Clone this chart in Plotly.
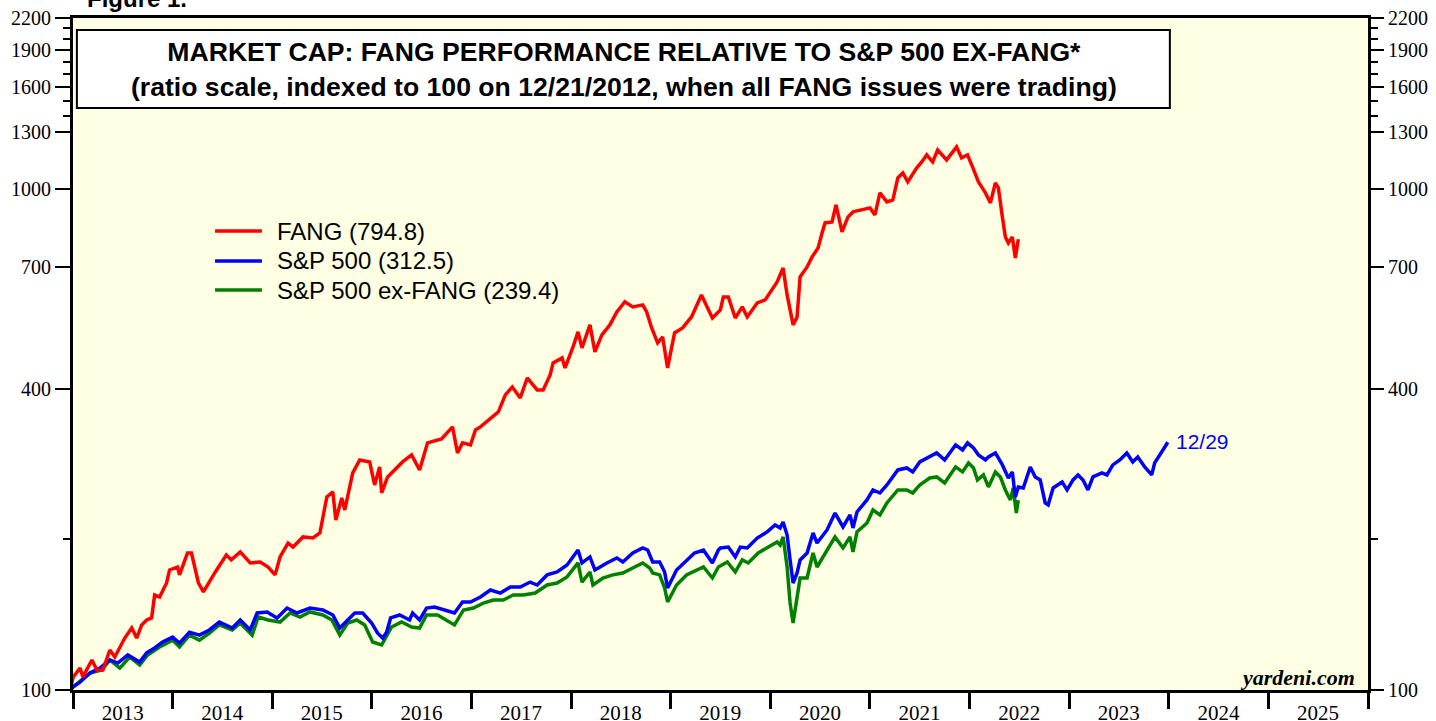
import datetime as dt
import math
import plotly.graph_objects as go

# ---------------- data (dates as decimal years, values indexed 12/21/2012 = 100) ----------------
fang_t = [2012.97, 2013.003, 2013.07, 2013.10, 2013.19, 2013.24, 2013.30, 2013.37, 2013.42, 2013.52,
          2013.59, 2013.64, 2013.69, 2013.74, 2013.79, 2013.82, 2013.87, 2013.94, 2013.97, 2014.05,
          2014.07, 2014.15, 2014.19, 2014.26, 2014.31, 2014.36, 2014.43, 2014.54, 2014.59, 2014.68,
          2014.78, 2014.88, 2014.96, 2015.03, 2015.08, 2015.16, 2015.21, 2015.31, 2015.41, 2015.48,
          2015.55, 2015.61, 2015.64, 2015.70, 2015.73, 2015.81, 2015.88, 2015.98, 2016.03, 2016.08,
          2016.10, 2016.16, 2016.26, 2016.31, 2016.40, 2016.48, 2016.56, 2016.70, 2016.81, 2016.86,
          2016.91, 2016.99, 2017.04, 2017.09, 2017.21, 2017.27, 2017.34, 2017.41, 2017.49, 2017.56,
          2017.66, 2017.72, 2017.79, 2017.82, 2017.91, 2017.94, 2018.02, 2018.07, 2018.11, 2018.19,
          2018.24, 2018.31, 2018.39, 2018.46, 2018.54, 2018.62, 2018.72, 2018.76, 2018.81, 2018.87,
          2018.92, 2018.97, 2019.04, 2019.12, 2019.21, 2019.31, 2019.42, 2019.50, 2019.53, 2019.58,
          2019.65, 2019.72, 2019.77, 2019.87, 2019.95, 2020.02, 2020.07, 2020.13, 2020.17, 2020.23,
          2020.27, 2020.30, 2020.37, 2020.42, 2020.48, 2020.52, 2020.55, 2020.62, 2020.66, 2020.72,
          2020.78, 2020.83, 2020.92, 2021.00, 2021.05, 2021.10, 2021.17, 2021.23, 2021.28, 2021.33,
          2021.38, 2021.47, 2021.52, 2021.57, 2021.63, 2021.68, 2021.77, 2021.87, 2021.92, 2021.98,
          2022.03, 2022.09, 2022.16, 2022.21, 2022.26, 2022.29, 2022.33, 2022.36, 2022.39, 2022.43,
          2022.46, 2022.49]
fang_v = [100.0, 106.2, 110.6, 106.2, 114.8, 109.6, 109.6, 120.2, 116.4, 127.0,
          133.0, 127.0, 134.9, 138.0, 139.3, 154.8, 153.4, 163.6, 173.7, 176.1,
          169.8, 187.8, 187.8, 163.6, 157.0, 163.6, 172.1, 186.1, 181.9, 188.7,
          179.4, 180.2, 176.1, 169.8, 184.4, 196.6, 193.0, 202.2, 201.2, 205.9,
          243.0, 248.7, 218.6, 241.9, 228.9, 271.4, 288.1, 285.5, 256.8, 279.0,
          247.5, 266.5, 279.0, 285.5, 294.8, 275.2, 311.6, 317.4, 335.4, 297.5,
          311.6, 308.7, 330.8, 335.4, 351.1, 359.3, 388.5, 403.1, 383.2, 420.1,
          397.6, 397.6, 426.0, 450.2, 460.6, 439.9, 484.5, 519.2, 482.3, 536.2,
          473.5, 512.1, 536.2, 569.2, 596.1, 582.5, 587.9, 569.2, 528.8, 493.5,
          507.4, 439.9, 516.8, 528.8, 556.2, 615.5, 553.6, 574.5, 609.9, 609.9,
          553.6, 582.5, 556.2, 593.3, 601.5, 629.8, 653.4, 696.9, 615.5, 536.2,
          556.2, 668.7, 700.1, 733.0, 764.1, 818.6, 857.1, 861.1, 931.2, 822.4,
          881.2, 901.7, 910.0, 918.4, 889.3, 984.1, 944.1, 952.9, 1054.3, 1078.9,
          1035.1, 1104.0, 1134.9, 1172.1, 1134.9, 1199.3, 1145.4, 1216.0, 1155.9, 1172.1,
          1109.1, 1035.1, 984.1, 939.8, 1030.3, 1006.9, 881.2, 803.7, 781.9, 803.7,
          729.7, 794.8]

spx_t = [2012.97, 2013.00, 2013.07, 2013.17, 2013.27, 2013.37, 2013.45, 2013.55, 2013.67, 2013.74,
         2013.82, 2013.90, 2014.00, 2014.07, 2014.17, 2014.27, 2014.37, 2014.47, 2014.60, 2014.68,
         2014.78, 2014.85, 2014.95, 2015.05, 2015.15, 2015.25, 2015.38, 2015.51, 2015.61, 2015.68,
         2015.76, 2015.83, 2015.91, 2016.00, 2016.06, 2016.11, 2016.15, 2016.19, 2016.28, 2016.38,
         2016.41, 2016.48, 2016.55, 2016.63, 2016.73, 2016.83, 2016.91, 2016.99, 2017.09, 2017.19,
         2017.29, 2017.39, 2017.49, 2017.59, 2017.66, 2017.76, 2017.86, 2017.96, 2018.07, 2018.11,
         2018.19, 2018.24, 2018.36, 2018.46, 2018.52, 2018.62, 2018.72, 2018.77, 2018.82, 2018.89,
         2018.94, 2018.97, 2019.06, 2019.16, 2019.24, 2019.33, 2019.42, 2019.48, 2019.50, 2019.58,
         2019.65, 2019.70, 2019.77, 2019.87, 2019.97, 2020.05, 2020.10, 2020.13, 2020.17, 2020.20,
         2020.23, 2020.27, 2020.30, 2020.37, 2020.43, 2020.47, 2020.57, 2020.65, 2020.73, 2020.80,
         2020.83, 2020.87, 2020.97, 2021.03, 2021.10, 2021.17, 2021.28, 2021.37, 2021.43, 2021.50,
         2021.60, 2021.67, 2021.75, 2021.86, 2021.93, 2021.98, 2022.04, 2022.09, 2022.16, 2022.19,
         2022.26, 2022.33, 2022.39, 2022.43, 2022.46, 2022.49, 2022.54, 2022.61, 2022.66, 2022.71,
         2022.76, 2022.79, 2022.84, 2022.88, 2022.93, 2022.98, 2023.04, 2023.09, 2023.14, 2023.19,
         2023.24, 2023.33, 2023.38, 2023.44, 2023.51, 2023.58, 2023.64, 2023.69, 2023.76, 2023.83,
         2023.86, 2023.93, 2023.99]
spx_v = [100.0, 101.4, 103.7, 108.1, 110.6, 114.8, 113.2, 117.5, 113.7, 118.6,
         121.3, 124.7, 127.5, 124.1, 130.5, 128.7, 131.8, 136.7, 133.0, 138.0,
         131.8, 142.5, 143.2, 139.3, 145.8, 142.5, 145.8, 144.5, 141.2, 133.0,
         138.0, 142.5, 142.5, 136.1, 129.9, 127.0, 130.5, 139.3, 141.2, 138.0,
         142.5, 138.0, 145.8, 146.5, 144.5, 142.5, 149.9, 149.9, 153.4, 158.4,
         156.2, 160.6, 160.6, 164.3, 162.1, 169.8, 172.1, 177.7, 190.4, 179.4,
         184.4, 173.7, 179.4, 183.6, 180.2, 187.8, 192.2, 190.4, 180.2, 180.2,
         172.1, 159.9, 173.7, 181.9, 187.8, 190.4, 179.4, 190.4, 192.2, 193.0,
         184.4, 193.0, 192.2, 201.2, 206.9, 213.7, 210.7, 216.6, 204.0, 181.9,
         163.6, 171.3, 181.9, 187.8, 205.9, 196.6, 208.8, 225.7, 211.7, 223.7,
         210.7, 226.8, 239.7, 251.0, 247.5, 256.8, 275.2, 277.7, 272.7, 285.5,
         292.1, 297.5, 288.1, 308.7, 301.7, 311.6, 304.5, 294.8, 288.1, 292.1,
         297.5, 281.6, 265.2, 272.7, 243.0, 254.5, 253.3, 279.0, 266.5, 262.8,
         236.4, 234.2, 253.3, 256.8, 260.4, 251.0, 262.8, 268.9, 262.8, 251.0,
         266.5, 271.4, 268.9, 281.6, 288.1, 297.5, 285.5, 292.1, 279.0, 268.9,
         284.2, 298.9, 312.5]

exf_t = [2012.97, 2013.00, 2013.17, 2013.29, 2013.37, 2013.47, 2013.57, 2013.67, 2013.75, 2013.87,
         2014.00, 2014.07, 2014.17, 2014.27, 2014.37, 2014.47, 2014.60, 2014.68, 2014.80, 2014.86,
         2014.96, 2015.08, 2015.18, 2015.28, 2015.38, 2015.51, 2015.60, 2015.68, 2015.76, 2015.85,
         2015.93, 2016.01, 2016.10, 2016.20, 2016.30, 2016.40, 2016.48, 2016.55, 2016.66, 2016.75,
         2016.83, 2016.92, 2017.02, 2017.12, 2017.22, 2017.32, 2017.42, 2017.52, 2017.64, 2017.76,
         2017.86, 2017.96, 2018.07, 2018.11, 2018.19, 2018.22, 2018.32, 2018.42, 2018.52, 2018.62,
         2018.72, 2018.79, 2018.82, 2018.89, 2018.94, 2018.97, 2019.06, 2019.16, 2019.27, 2019.33,
         2019.42, 2019.48, 2019.57, 2019.65, 2019.72, 2019.78, 2019.88, 2019.97, 2020.07, 2020.10,
         2020.13, 2020.17, 2020.20, 2020.23, 2020.27, 2020.30, 2020.37, 2020.43, 2020.47, 2020.57,
         2020.65, 2020.73, 2020.80, 2020.83, 2020.87, 2020.97, 2021.03, 2021.10, 2021.17, 2021.28,
         2021.37, 2021.43, 2021.50, 2021.60, 2021.67, 2021.75, 2021.86, 2021.93, 2021.99, 2022.04,
         2022.08, 2022.14, 2022.19, 2022.26, 2022.31, 2022.36, 2022.41, 2022.44, 2022.47, 2022.49]
exf_v = [100.0, 101.4, 108.1, 109.6, 114.8, 110.6, 116.4, 112.2, 117.5, 121.9,
         125.8, 121.9, 128.7, 125.8, 129.9, 134.9, 131.8, 136.1, 128.7, 139.9,
         138.0, 136.7, 142.5, 139.9, 143.2, 141.2, 138.0, 128.7, 136.1, 138.0,
         134.9, 124.7, 123.0, 133.6, 136.7, 133.6, 133.0, 141.2, 141.2, 138.0,
         134.9, 144.5, 145.8, 149.2, 151.3, 151.3, 154.8, 154.8, 156.2, 162.1,
         163.6, 168.2, 179.4, 164.3, 172.1, 162.1, 167.4, 169.8, 171.3, 175.3,
         179.4, 175.3, 171.3, 169.8, 159.9, 149.9, 162.1, 169.8, 173.7, 176.1,
         167.4, 176.1, 180.2, 172.1, 181.9, 179.4, 187.8, 192.2, 197.5, 194.8,
         202.2, 176.1, 149.2, 136.1, 151.3, 167.4, 167.4, 187.8, 176.1, 190.4,
         202.2, 192.2, 202.2, 188.7, 206.9, 215.6, 228.9, 223.7, 236.4, 251.0,
         251.0, 247.5, 256.8, 265.2, 266.5, 259.2, 279.0, 272.7, 284.2, 277.7,
         262.8, 268.9, 254.5, 272.7, 266.5, 251.0, 239.7, 253.3, 225.7, 239.4]

series_names = ["FANG", "S&P 500", "S&P 500 ex-FANG"]
series_colors = ["#FF0000", "#0000FF", "#008000"]
last_date_label = "12/29"

y_major = [100, 400, 700, 1000, 1300, 1600, 1900, 2200]
y_minor = [200, 1400, 1500, 1700, 1800, 2000, 2100]
years = list(range(2013, 2026))


def to_date(t):
    y = int(t)
    start = dt.datetime(y, 1, 1)
    n = (dt.datetime(y + 1, 1, 1) - start).days
    return start + dt.timedelta(days=(t - y) * n)


fang_d = [to_date(t) for t in fang_t]
spx_d = [to_date(t) for t in spx_t]
exf_d = [to_date(t) for t in exf_t]
fang_d[0] = spx_d[0] = exf_d[0] = dt.datetime(2012, 12, 21)
spx_d[-1] = dt.datetime(2023, 12, 29)

LW = 3.5
fig = go.Figure()
fig.add_trace(go.Scatter(x=exf_d, y=exf_v, mode="lines", name=series_names[2],
                         line=dict(color=series_colors[2], width=LW), showlegend=False))
fig.add_trace(go.Scatter(x=spx_d, y=spx_v, mode="lines", name=series_names[1],
                         line=dict(color=series_colors[1], width=LW), showlegend=False))
fig.add_trace(go.Scatter(x=fang_d, y=fang_v, mode="lines", name=series_names[0],
                         line=dict(color=series_colors[0], width=LW), showlegend=False))
fig.add_trace(go.Scatter(x=[spx_d[0]], y=[spx_v[0]], yaxis="y2", mode="lines",
                         line=dict(width=0), hoverinfo="skip", showlegend=False))

serif = "Liberation Serif, Times New Roman, serif"
sans = "Liberation Sans, Arial, sans-serif"

yrange = [2, 3.34242268]
mid_year = [dt.datetime(y, 7, 2) for y in years]
year_starts = [dt.datetime(y, 1, 1) for y in range(2013, 2027)]

fig.update_layout(
    width=1436, height=721,
    margin=dict(l=73, r=68, t=18, b=31, autoexpand=False),
    paper_bgcolor="white",
    plot_bgcolor="#FFFFE3",
    showlegend=False,
    xaxis=dict(
        type="date", automargin=False,
        range=[dt.datetime(2013, 1, 1), dt.datetime(2026, 1, 1)],
        tickmode="array", tickvals=mid_year, ticktext=[str(y) for y in years],
        ticks="outside", ticklen=2, tickcolor="rgba(0,0,0,0)",
        tickfont=dict(family=serif, size=21, color="black"),
        showgrid=False, zeroline=False,
        showline=True, linewidth=3, linecolor="black", mirror=True,
        minor=dict(tickmode="array", tickvals=year_starts, ticks="outside",
                   ticklen=16, tickwidth=3, tickcolor="black", showgrid=False),
    ),
    yaxis=dict(
        type="log", range=yrange, automargin=False,
        tickmode="array", tickvals=y_major, ticktext=[str(v) for v in y_major],
        ticks="outside", ticklen=15, tickwidth=2, tickcolor="black",
        tickfont=dict(family=serif, size=20, color="black"),
        showgrid=False, zeroline=False,
        showline=True, linewidth=3, linecolor="black", mirror=True,
        minor=dict(tickmode="array", tickvals=y_minor, ticks="outside",
                   ticklen=7, tickwidth=2, tickcolor="black", showgrid=False),
    ),
    yaxis2=dict(
        type="log", range=yrange, overlaying="y", side="right", automargin=False,
        tickmode="array", tickvals=y_major, ticktext=[str(v) for v in y_major],
        ticks="outside", ticklen=13, tickwidth=2, tickcolor="black",
        tickfont=dict(family=serif, size=20, color="black"),
        showgrid=False, zeroline=False, showline=True, linewidth=3, linecolor="black",
        minor=dict(tickmode="array", tickvals=y_minor, ticks="outside",
                   ticklen=7, tickwidth=2, tickcolor="black", showgrid=False),
    ),
)

# Title box
fig.add_shape(type="rect", xref="paper", yref="paper", x0=0.003, x1=0.847, y0=0.866, y1=0.982,
              fillcolor="white", line=dict(color="black", width=2), layer="above")
fig.add_annotation(xref="paper", yref="paper", x=0.4255, y=0.924, xanchor="center", yanchor="middle",
                   text="<b>MARKET CAP: FANG PERFORMANCE RELATIVE TO S&P 500 EX-FANG*</b><br>"
                        "<b>(ratio scale, indexed to 100 on 12/21/2012, when all FANG issues were trading)</b>",
                   showarrow=False, font=dict(family=sans, size=26.6, color="black"), align="center")

# Manual legend
last_vals = [fang_v[-1], spx_v[-1], exf_v[-1]]
leg_y = [0.683, 0.6384, 0.5952]
for name, col, lv, yy in zip(series_names, series_colors, last_vals, leg_y):
    fig.add_shape(type="line", xref="paper", yref="paper", x0=0.1097, x1=0.1459, y0=yy, y1=yy,
                  line=dict(color=col, width=LW))
    fig.add_annotation(xref="paper", yref="paper", x=0.156, y=yy, xanchor="left", yanchor="middle",
                       text=f"{name} ({lv:.1f})", showarrow=False,
                       font=dict(family=sans, size=24, color="black"))

# End label
fig.add_annotation(x=spx_d[-1], y=math.log10(spx_v[-1]), xref="x", yref="y",
                   text=last_date_label, showarrow=False, xanchor="left", yanchor="middle",
                   xshift=6, yshift=1, font=dict(family=sans, size=21, color="#0000FF"))

# Source
fig.add_annotation(xref="paper", yref="paper", x=0.9915, y=0.019, xanchor="right", yanchor="middle",
                   text="<b><i>yardeni.com</i></b>", showarrow=False,
                   font=dict(family=serif, size=22, color="black"))

# Figure label (partly cut off at top)
fig.add_annotation(xref="paper", yref="paper", x=0.009, y=1.0065, xanchor="left", yanchor="bottom",
                   text="<b>Figure 1.</b>", showarrow=False,
                   font=dict(family=sans, size=24, color="black"))

# remove the default page margin so the figure sits at the window origin
fig.write_html("out.html", config={"displayModeBar": False},
               post_script="document.body.style.margin='0';")
